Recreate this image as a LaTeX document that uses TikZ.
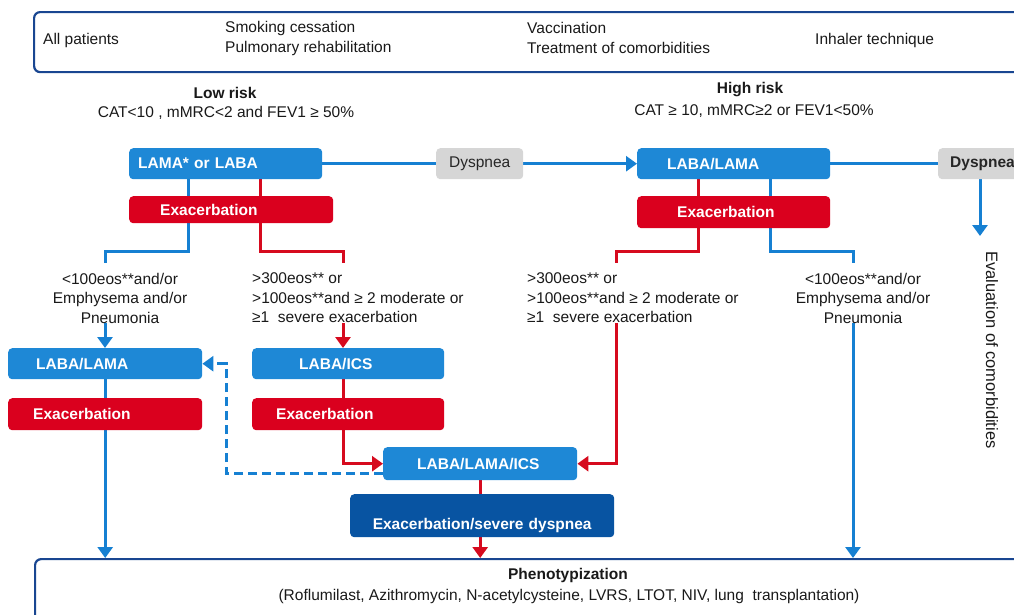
\documentclass[tikz,border=0pt]{standalone}
\usepackage{fontspec}
\setmainfont{Liberation Sans}
\usetikzlibrary{arrows.meta, backgrounds}

\definecolor{boxblue}{RGB}{30,136,214}
\definecolor{boxred}{RGB}{218,0,30}
\definecolor{boxdark}{RGB}{8,84,162}
\definecolor{boxgray}{RGB}{214,214,214}
\definecolor{frameblue}{RGB}{25,70,145}
\definecolor{lineblue}{RGB}{22,128,210}
\definecolor{linered}{RGB}{214,10,30}

\tikzstyle{box} = [rectangle, rounded corners=4pt, anchor=north west, minimum height=31pt, inner ysep=0pt, align=left, text=white, font=\fontsize{15.5}{18}\selectfont\bfseries]
\tikzstyle{bluebox} = [box, fill=boxblue]
\tikzstyle{redbox} = [box, fill=boxred, minimum height=32pt]
\tikzstyle{darkbox} = [box, fill=boxdark, align=center]
\tikzstyle{graybox} = [box, fill=boxgray, text=black!85]
\tikzstyle{frame} = [rectangle, rounded corners=6pt, draw=frameblue, line width=2.2pt, anchor=north west]
\tikzstyle{txt} = [inner sep=0pt, text=black!90, font=\fontsize{15.5}{19.5}\selectfont]
\tikzstyle{bold} = [font=\fontsize{15.5}{18}\selectfont\bfseries]
\tikzstyle{bline} = [lineblue, line width=3pt]
\tikzstyle{rline} = [linered, line width=3pt]
\tikzstyle{arrow} = [-{Triangle[width=15pt,length=11pt]}]

\begin{document}
\begin{tikzpicture}[x=1pt, y=-1pt]

    \useasboundingbox (0,0) rectangle (1014,614);
    \clip (0,0) rectangle (1014,614);

    % measures for all patients
    \node (allbox) [frame, minimum width=1000pt, minimum height=60pt] at (33,11) {};
    \node (allpat) [txt, anchor=west] at (43,40) {All patients};
    \node (smoke) [txt, anchor=west, align=left, font=\fontsize{15.5}{20}\selectfont] at (225,38) {Smoking cessation\\Pulmonary rehabilitation};
    \node (vacc) [txt, anchor=west, align=left, font=\fontsize{15.5}{20}\selectfont] at (527,38) {Vaccination\\Treatment of comorbidities};
    \node (inhal) [txt, anchor=west] at (815,40) {Inhaler technique};

    \node (lowrisk) [txt, bold] at (225,93) {Low risk};
    \node (lowcrit) [txt] at (226,113) {CAT<10 , mMRC<2 and FEV1 ≥ 50\%};
    \node (highrisk) [txt, bold] at (750,90) {High risk};
    \node (highcrit) [txt] at (754,111) {CAT ≥ 10, mMRC≥2 or FEV1<50\%};

    % first line of treatment
    \node (lama) [bluebox, inner xsep=9pt, text width=175pt] at (129,148) {LAMA* or LABA};
    \node (exl1) [redbox, inner xsep=31pt, text width=142pt, minimum height=27pt] at (129,196) {Exacerbation};
    \node (dysp1) [graybox, align=center, inner xsep=4pt, text width=79pt, font=\fontsize{15.5}{18}\selectfont] at (436,148) {Dyspnea};
    \node (lamah) [bluebox, inner xsep=30pt, text width=133pt] at (637,148) {LABA/LAMA};
    \node (exh) [redbox, inner xsep=40pt, text width=113pt] at (637,196) {Exacerbation};
    \node (dysp2) [graybox, inner xsep=12pt, text width=70pt, text=black!85] at (938,148) {Dyspnea};
    \node (eval) [txt, rotate=-90, font=\fontsize{16.5}{20}\selectfont] at (992,350) {Evaluation of comorbidities};

    % eosinophil criteria
    \node (crita) [txt, align=center] at (120,298) {<100eos**and/or\\Emphysema and/or\\Pneumonia};
    \node (critb) [txt, anchor=west, align=left] at (252,298) {>300eos** or\\>100eos**and ≥ 2 moderate or\\≥1 \ severe exacerbation};
    \node (critc) [txt, anchor=west, align=left] at (527,298) {>300eos** or\\>100eos**and ≥ 2 moderate or\\≥1 \ severe exacerbation};
    \node (critd) [txt, align=center] at (863,298) {<100eos**and/or\\Emphysema and/or\\Pneumonia};

    % second line of treatment
    \node (lll) [bluebox, inner xsep=28pt, text width=138pt] at (8,348) {LABA/LAMA};
    \node (exl2) [redbox, inner xsep=25pt, text width=144pt] at (8,398) {Exacerbation};
    \node (lics) [bluebox, inner xsep=47pt, text width=98pt] at (252,348) {LABA/ICS};
    \node (exl3) [redbox, inner xsep=24pt, text width=144pt] at (252,398) {Exacerbation};
    \node (llics) [bluebox, inner xsep=34pt, text width=126pt, minimum height=33pt] at (383,447) {LABA/LAMA/ICS};
    \node (exsd) [darkbox, inner xsep=0pt, text width=264pt, minimum height=43pt, text height=32pt, text depth=5pt] at (350,494) {Exacerbation/severe dyspnea};

    \node (pheno) [frame, minimum width=1000pt, minimum height=100pt] at (34,558) {};
    \node (phtitle) [txt, bold] at (568,575) {Phenotypization};
    \node (phlist) [txt] at (569,596) {(Roflumilast, Azithromycin, N-acetylcysteine, LVRS, LTOT, NIV, lung \ transplantation)};

    \coordinate (kbl) at (188,251);
    \coordinate (kbl2) at (105,251);
    \coordinate (krl) at (260,251);
    \coordinate (krl2) at (343,251);
    \coordinate (krh) at (698,251);
    \coordinate (krh2) at (616,251);
    \coordinate (kbh) at (770,251);
    \coordinate (kbh2) at (853,251);
    \coordinate (kd) at (226,473);
    \coordinate (kev) at (980,236);

    \begin{pgfonlayer}{background}
    \draw [bline] (lama) -- (dysp1);
    \draw [bline, arrow] (dysp1) -- (lamah);
    \draw [bline] (lamah) -- (dysp2);
    \draw [bline, arrow] (dysp2.south -| kev) -- (kev);

    \draw [bline] (lama.south -| kbl) -- (kbl) -- (kbl2) -- (kbl2 |- 0,263);
    \draw [rline] (lama.south -| krl) -- (krl) -- (krl2) -- (krl2 |- 0,263);
    \draw [rline] (lamah.south -| krh) -- (krh) -- (krh2) -- (krh2 |- 0,263);
    \draw [bline] (lamah.south -| kbh) -- (kbh) -- (kbh2) -- (kbh2 |- 0,263);

    \draw [bline, arrow] (kbl2 |- crita.south) -- (kbl2 |- lll.north);
    \draw [rline, arrow] (krl2 |- critb.south) -- (krl2 |- lics.north);
    \draw [rline, arrow] (krh2 |- critc.south) |- (llics.east);
    \draw [bline, arrow] (kbh2 |- critd.south) -- (kbh2 |- pheno.north);

    \draw [bline, arrow] (lll.south) -- (lll.south |- pheno.north);
    \draw [rline, arrow] (krl2 |- lics.south) |- (llics.west);
    \draw [bline, arrow, dash pattern=on 9pt off 5pt] (llics.west |- kd) -- (kd) |- (lll.east);
    \draw [rline, arrow] (llics.south) -- (llics.south |- pheno.north);
    \end{pgfonlayer}

\end{tikzpicture}
\end{document}
